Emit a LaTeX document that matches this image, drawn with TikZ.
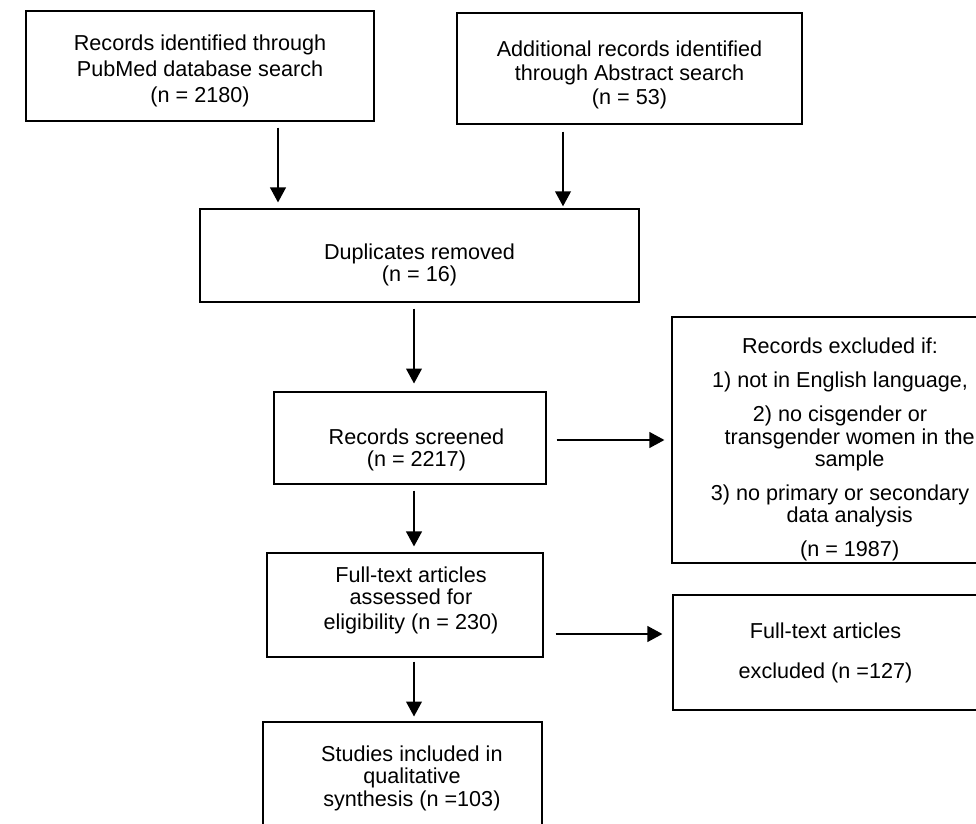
\documentclass[tikz,border=0pt]{standalone}
\usepackage{fontspec}
\setmainfont{Liberation Sans}
\usetikzlibrary{arrows.meta}

\tikzset{
    box/.style={draw, line width=0.7pt, align=center, inner sep=0pt,
        font=\fontsize{12.3}{12.8}\selectfont},
    arr/.style={-{Triangle[width=9pt, length=8.5pt]}, line width=0.8pt,
        shorten <=3.4pt, shorten >=3.4pt},
}

\begin{document}
\begin{tikzpicture}[x=0.02cm, y=-0.02cm]
    \useasboundingbox (0,0) rectangle (976,824);
    \clip (0,0) rectangle (976,824);

    % Identification
    \node[box, minimum width=6.96cm, minimum height=2.2cm] (pubmed) at (200, 66)
        {\rule{0pt}{14pt}Records identified through\\[2pt]PubMed database search\\[2pt](n = 2180)};
    \node[box, minimum width=6.9cm, minimum height=2.22cm] (abstract) at (629.5, 68.5)
        {\rule{0pt}{16.2pt}Additional records identified\\[1pt]through Abstract search\\[1pt](n = 53)};
    \node[box, minimum width=8.78cm, minimum height=1.86cm] (dup) at (419.5, 255.5)
        {\rule{0pt}{19.8pt}Duplicates removed\\(n = 16)};

    % Screening
    \node[box, minimum width=5.44cm, minimum height=1.84cm] (screened) at (410, 438)
        {\rule{0pt}{22.7pt}\hspace*{7.3pt}Records screened\\\hspace*{7.3pt}(n = 2217)};
    \node[box, minimum width=6.72cm, minimum height=4.92cm] (exclA) at (840, 440)
        {\rule{0pt}{20pt}Records excluded if:\\[6.5pt]
         1) not in English language,\\[6.5pt]
         2) no cisgender or\\
         \hspace*{11pt}transgender women in the\\
         \hspace*{11pt}sample\\[6.5pt]
         3) no primary or secondary\\
         \hspace*{11pt}data analysis\\[6.5pt]
         \hspace*{11pt}(n = 1987)};

    % Eligibility
    \node[box, minimum width=5.52cm, minimum height=2.08cm] (fulltext) at (405, 605)
        {\hspace*{6.8pt}Full-text articles\\\hspace*{6.8pt}assessed for\\[1pt]
         \hspace*{6.8pt}eligibility (n = 230)\rule[-8pt]{0pt}{0pt}};
    \node[box, minimum width=6.1cm, minimum height=2.3cm] (exclB) at (825.5, 652.5)
        {Full-text articles\\[10pt]excluded (n =127)};

    % Included
    \node[box, minimum width=5.58cm, minimum height=2.24cm] (studies) at (402.5, 778)
        {\hspace*{10.7pt}Studies included in\\\hspace*{10.7pt}qualitative\\
         \hspace*{10.7pt}synthesis (n =103)};

    \coordinate (ca) at (278, 0);
    \coordinate (cb) at (563, 0);
    \coordinate (cm) at (414, 0);
    \coordinate (ch1) at (0, 440);
    \coordinate (ch2) at (0, 634);

    \draw[arr] (pubmed.south -| ca) -- (dup.north -| ca);
    \draw[arr, shorten <=4pt, shorten >=1.2pt] (abstract.south -| cb) -- (dup.north -| cb);
    \draw[arr, shorten >=4.5pt] (dup.south -| cm) -- (screened.north -| cm);
    \draw[arr] (screened.south -| cm) -- (fulltext.north -| cm);
    \draw[arr, shorten <=2.3pt, shorten >=2.8pt] (fulltext.south -| cm) -- (studies.north -| cm);
    \draw[arr, shorten <=5.7pt, shorten >=4pt] (screened.east |- ch1) -- (exclA.west |- ch1);
    \draw[arr, shorten <=6.8pt, shorten >=5.7pt] (fulltext.east |- ch2) -- (exclB.west |- ch2);
\end{tikzpicture}
\end{document}
